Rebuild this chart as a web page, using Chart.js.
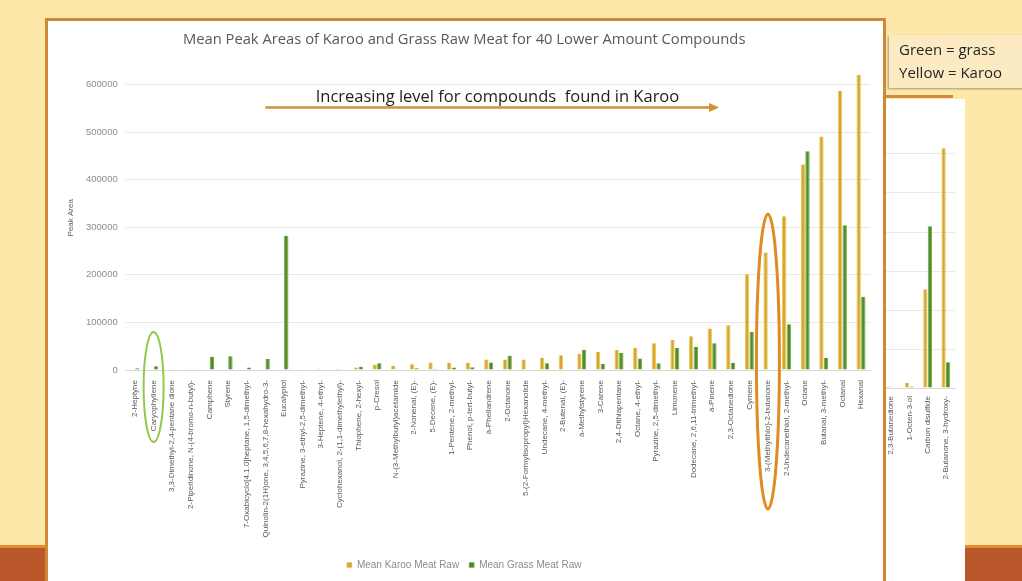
<!DOCTYPE html>
<html>
<head>
<meta charset="utf-8">
<script src="https://cdn.jsdelivr.net/npm/chart.js@4.4.0/dist/chart.umd.min.js"></script>
<style>
  html, body { margin: 0; padding: 0; }
  body {
    width: 1022px; height: 581px; position: relative; overflow: hidden;
    background: #FDE8A9; font-family: 'Open Sans', sans-serif;
  }
  #band { position: absolute; left: 0; top: 545px; width: 1022px; height: 36px;
          background: #B9572B; border-top: 3px solid #E38A2E; }
  #sidePanel { position: absolute; left: 886px; top: 99px; width: 79px; height: 482px; background: #fff; }
  #sideLine { position: absolute; left: 883px; top: 95px; width: 70px; height: 3px; background: #D0883A; }
  #sideWrap { position: absolute; left: 860px; top: 100px; width: 105px; height: 481px; }
  #mainPanel { position: absolute; left: 45px; top: 18px; width: 835px; height: 570px;
               background: #fff; border: 3px solid #CF8836; border-bottom: none; z-index: 2; }
  #mainWrap { position: absolute; left: 0; top: 0; width: 835px; height: 560px; }
  #note { position: absolute; left: 889px; top: 35px; width: 140px; height: 50px;
          background: #FCEBC2; box-shadow: -1px 1px 2px rgba(0,0,0,0.35);
          font-size: 15px; line-height: 23px; color: #262626; padding: 3px 0 0 10px; z-index: 3; }
</style>
</head>
<body>
<div id="band"></div>
<div id="sidePanel"></div>
<div id="sideLine"></div>
<div id="sideWrap"><canvas id="sideChart" width="105" height="481"></canvas></div>
<div id="mainPanel"><div id="mainWrap"><canvas id="mainChart" width="835" height="560"></canvas></div></div>
<div id="note">Green = grass<br>Yellow = Karoo</div>

<script>
// ---- data: the 40 lower-amount compounds, sorted by Karoo level ----
const COMPOUNDS = [
  '2-Heptyne', 'Caryophyllene', '3,3-Dimethyl-2,4-pentane dione',
  '2-Piperidinone, N-(4-bromo-n-butyl)-', 'Camphene', 'Styrene',
  '7-Oxabicyclo[4.1.0]heptane, 1,5-dimethyl-', 'Quinolin-2(1H)one, 3,4,5,6,7,8-hexahydro-3-',
  'Eucalyptol', 'Pyrazine, 3-ethyl-2,5-dimethyl-', '3-Heptene, 4-ethyl-',
  'Cyclohexanol, 2-(1,1-dimethylethyl)-', 'Thiophene, 2-hexyl-', 'p-Cresol',
  'N-(3-Methylbutyl)acetamide', '2-Nonenal, (E)-', '5-Decene, (E)-', '1-Pentene, 2-methyl-',
  'Phenol, p-tert-butyl-', 'à-Phellandrene', '2-Octanone', '5-(2-Formylisopropyl)Hexanolide',
  'Undecane, 4-methyl-', '2-Butenal, (E)-', 'à-Methylstyrene', '3-Carene', '2,4-Dithiapentane',
  'Octane, 4-ethyl-', 'Pyrazine, 2,5-dimethyl-', 'Limonene', 'Dodecane, 2,6,11-trimethyl-',
  'à-Pinene', '2,3-Octanedione', 'Cymene', '3-(Methylthio)-2-butanone',
  '2-Undecanethiol, 2-methyl-', 'Octane', 'Butanal, 3-methyl-', 'Octanal', 'Hexanal'
];
const KAROO_MEAN = [
  0, 0, 1000, 1500, 0, 0, 0, 0, 0, 1500,
  2500, 2500, 5000, 11000, 9000, 12000, 16000, 15000, 15000, 22000,
  22000, 22000, 26000, 31000, 34000, 38000, 42000, 47000, 56000, 63000,
  71000, 87000, 94000, 201000, 247000, 323000, 432000, 491000, 587000, 620000
];
const GRASS_MEAN = [
  3500, 8000, 500, 500, 28000, 29000, 5500, 23000, 282000, 1000,
  1000, 1500, 7000, 14000, 1500, 3500, 2000, 5000, 5600, 16000,
  30000, 0, 14000, 0, 42000, 13000, 36000, 24000, 14000, 47000,
  49000, 56000, 15000, 80000, 0, 96000, 460000, 26000, 304000, 154000
];
const Y_TICKS = [0, 100000, 200000, 300000, 400000, 500000, 600000];

// ---- data: four further compounds shown in the side chart ----
const EXTRA_COMPOUNDS = ['2,3-Butanedione', '1-Octen-3-ol', 'Carbon disulfide', '2-Butanone, 3-hydroxy-'];
const EXTRA_KAROO = [4000, 13000, 253000, 615000];
const EXTRA_GRASS = [1000, 4000, 415000, 66000];

const SERIES_NAMES = ['Mean Karoo Meat Raw', 'Mean Grass Meat Raw'];
const CHART_TITLE = 'Mean Peak Areas of Karoo and Grass Raw Meat for 40 Lower Amount Compounds';
const Y_TITLE = 'Peak Area';
const TREND_NOTE = 'Increasing level for compounds  found in Karoo';

const KAROO_FILL = '#D6A632', KAROO_EDGE = '#EDCB4E';
const GRASS_FILL = '#4F8A2C', GRASS_EDGE = '#79AE45';

function ring(ctx, cx, cy, rx, ry, color, width) {
  ctx.save();
  ctx.beginPath();
  ctx.ellipse(cx, cy, rx, ry, 0, 0, Math.PI * 2);
  ctx.strokeStyle = color;
  ctx.lineWidth = width;
  ctx.stroke();
  ctx.restore();
}

// callouts: highlight rings, trend arrow and its caption
const callouts = {
  id: 'callouts',
  afterDraw(chart) {
    const { ctx, chartArea, scales: { x, y } } = chart;
    const base = y.getPixelForValue(0);

    const gx = x.getPixelForValue(COMPOUNDS.indexOf('Caryophyllene'));
    ring(ctx, gx, base + 17, 10, 55, '#92C94C', 2);

    const ox = x.getPixelForValue(COMPOUNDS.indexOf('3-(Methylthio)-2-butanone'));
    ring(ctx, ox, base - 8.5, 11.5, 147.5, '#E08A22', 3);

    // arrow
    const ay = chartArea.top + 42;
    const ax0 = x.getPixelForValue(7);
    const ax1 = x.getPixelForValue(31) + 7;
    ctx.save();
    ctx.strokeStyle = '#D48F37';
    ctx.fillStyle = '#D48F37';
    ctx.lineWidth = 2.5;
    ctx.beginPath();
    ctx.moveTo(ax0, ay);
    ctx.lineTo(ax1 - 8, ay);
    ctx.stroke();
    ctx.beginPath();
    ctx.moveTo(ax1, ay);
    ctx.lineTo(ax1 - 10, ay - 4.5);
    ctx.lineTo(ax1 - 10, ay + 4.5);
    ctx.closePath();
    ctx.fill();

    ctx.fillStyle = '#1E1E1E';
    ctx.font = '16.5px "Open Sans"';
    ctx.textBaseline = 'middle';
    ctx.textAlign = 'left';
    ctx.fillText(TREND_NOTE, chartArea.left + 190, chartArea.top + 32);
    ctx.restore();
  }
};

const tickFont = { family: 'Liberation Sans', size: 8 };
const fixedTicks = (s) => { s.ticks = Y_TICKS.map(v => ({ value: v })); };

new Chart(document.getElementById('mainChart'), {
  type: 'bar',
  data: {
    labels: COMPOUNDS,
    datasets: [
      { label: SERIES_NAMES[0], data: KAROO_MEAN, backgroundColor: KAROO_FILL,
        borderColor: KAROO_EDGE, borderWidth: { left: 1, right: 1, top: 0, bottom: 0 }, borderSkipped: false },
      { label: SERIES_NAMES[1], data: GRASS_MEAN, backgroundColor: GRASS_FILL,
        borderColor: GRASS_EDGE, borderWidth: { left: 1, right: 1, top: 0, bottom: 0 }, borderSkipped: false }
    ]
  },
  options: {
    responsive: false,
    animation: false,
    datasets: { bar: { categoryPercentage: 0.5, barPercentage: 0.95 } },
    layout: { padding: { top: 0, right: 12.7, bottom: 1, left: 10 } },
    plugins: {
      title: { display: true, text: CHART_TITLE, color: '#595959',
               font: { family: 'Open Sans', size: 14.75, weight: 'normal' },
               padding: { top: 10.2, bottom: 16.6 } },
      legend: { position: 'bottom',
                labels: { boxWidth: 5, boxHeight: 5, padding: 10, color: '#8C8C8C',
                          font: { family: 'Liberation Sans', size: 10 } } },
      tooltip: { enabled: false }
    },
    scales: {
      x: {
        grid: { display: false },
        border: { color: '#D9D9D9' },
        ticks: { autoSkip: false, minRotation: 90, maxRotation: 90, color: '#595959', font: tickFont, padding: 2 },
        afterFit(s) { s.height = s.chart.height - 1 - s.chart.legend.height - 349; }
      },
      y: {
        min: 0, max: 640000,
        afterBuildTicks: fixedTicks,
        ticks: { color: '#8C8C8C', padding: 8, callback: v => String(v),
                 font: { family: 'Liberation Sans', size: 9.5 } },
        grid: { color: '#E8E8E8', drawTicks: false },
        border: { display: false },
        title: { display: true, text: Y_TITLE, color: '#595959',
                 font: { family: 'Liberation Sans', size: 8 }, padding: { top: 8, bottom: 0 } },
        afterFit(s) { s.width = 67.7; }
      }
    }
  },
  plugins: [callouts]
});

new Chart(document.getElementById('sideChart'), {
  type: 'bar',
  data: {
    labels: EXTRA_COMPOUNDS,
    datasets: [
      { label: SERIES_NAMES[0], data: EXTRA_KAROO, backgroundColor: KAROO_FILL,
        borderColor: KAROO_EDGE, borderWidth: { left: 1, right: 1, top: 0, bottom: 0 }, borderSkipped: false },
      { label: SERIES_NAMES[1], data: EXTRA_GRASS, backgroundColor: GRASS_FILL,
        borderColor: GRASS_EDGE, borderWidth: { left: 1, right: 1, top: 0, bottom: 0 }, borderSkipped: false }
    ]
  },
  options: {
    responsive: false,
    animation: false,
    datasets: { bar: { categoryPercentage: 0.5, barPercentage: 0.95 } },
    layout: { padding: { top: 34.5, right: 10, bottom: 0, left: 0 } },
    plugins: { legend: { display: false }, title: { display: false }, tooltip: { enabled: false } },
    scales: {
      x: {
        grid: { display: false },
        border: { color: '#D9D9D9' },
        ticks: { autoSkip: false, minRotation: 90, maxRotation: 90, color: '#595959', font: tickFont, padding: 0 },
        afterFit(s) { s.height = 481 - 288; }
      },
      y: {
        min: 0, max: 650000,
        afterBuildTicks: fixedTicks,
        ticks: { display: false },
        grid: { color: '#E8E8E8', drawTicks: false },
        border: { display: false },
        afterFit(s) { s.width = 22; }
      }
    }
  }
});
</script>
</body>
</html>
